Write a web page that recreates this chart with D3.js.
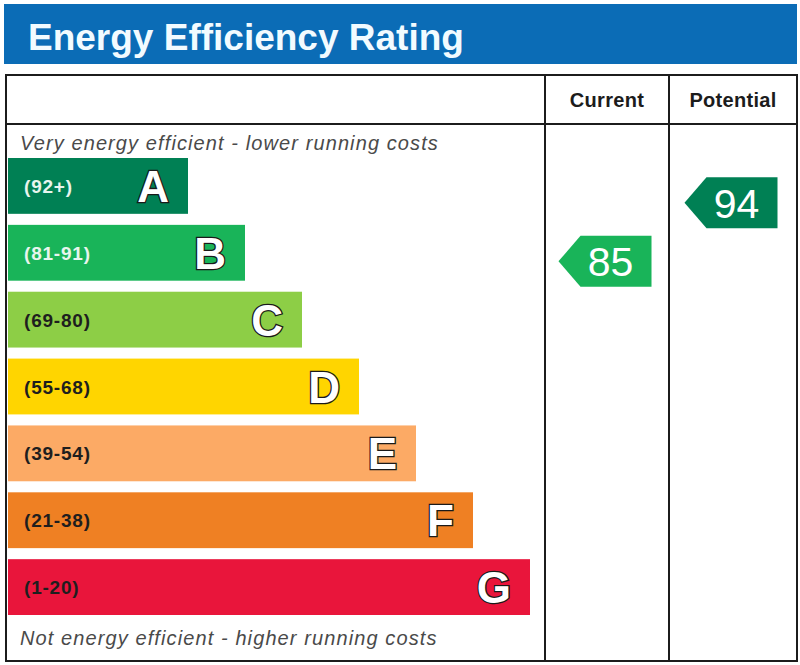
<!DOCTYPE html>
<html>
<head>
<meta charset="utf-8">
<script src="https://cdn.jsdelivr.net/npm/d3@7"></script>
<style>
  html, body { margin: 0; padding: 0; background: #fff; }
  svg { display: block; font-family: "Liberation Sans", Arial, sans-serif; }
</style>
</head>
<body>
<div id="chart"></div>
<script>
// rating bands, top (best) to bottom (worst)
var bands = ["A", "B", "C", "D", "E", "F", "G"];
var rangeLabels = ["(92+)", "(81-91)", "(69-80)", "(55-68)", "(39-54)", "(21-38)", "(1-20)"];
var bandLow = [92, 81, 69, 55, 39, 21, 1];
var bandHigh = [100, 91, 80, 68, 54, 38, 20];
var bandColors = ["#008054", "#19b459", "#8dce46", "#ffd500", "#fcaa65", "#ef8023", "#e9153b"];
var labelColors = ["#e8f5ee", "#e8f5ee", "#1e1e1e", "#1e1e1e", "#1e1e1e", "#1e1e1e", "#1e1e1e"];
var columns = ["Current", "Potential"];
var ratings = [85, 94];

var width = 800, height = 665;
var tableLeft = 6, tableRight = 797, tableTop = 75, tableBottom = 661, headerBottom = 124;
var colX = [545, 669];
var colRight = [colX[1], tableRight];

var svg = d3.select("#chart").append("svg")
    .attr("width", width)
    .attr("height", height);

// title banner
svg.append("rect")
    .attr("x", 4).attr("y", 4)
    .attr("width", 793).attr("height", 60)
    .attr("fill", "#0b6cb6");
svg.append("text")
    .attr("x", 28).attr("y", 50)
    .attr("fill", "#f2fbff")
    .attr("font-size", 37)
    .attr("font-weight", "bold")
    .text("Energy Efficiency Rating");

// bands
var y = d3.scaleBand()
    .domain(bands)
    .range([158, 615])
    .paddingInner(0.165)
    .paddingOuter(0);

var barEnd = d3.scaleLinear()
    .domain([0, bands.length - 1])
    .range([188, 530]);

var rows = svg.selectAll(".band")
    .data(bands)
    .enter()
    .append("g")
    .attr("class", "band");

rows.append("rect")
    .attr("x", 8)
    .attr("y", function(d) { return y(d); })
    .attr("width", function(d, i) { return barEnd(i) - 8; })
    .attr("height", y.bandwidth())
    .attr("fill", function(d, i) { return bandColors[i]; });

rows.append("text")
    .attr("x", 24)
    .attr("y", function(d) { return y(d) + y.bandwidth() / 2 + 7; })
    .attr("font-size", 19)
    .attr("font-weight", "bold")
    .attr("letter-spacing", 0.8)
    .attr("fill", function(d, i) { return labelColors[i]; })
    .text(function(d, i) { return rangeLabels[i]; });

rows.append("text")
    .attr("x", function(d, i) { return barEnd(i) - 19; })
    .attr("y", function(d) { return y(d) + y.bandwidth() / 2 + 16; })
    .attr("text-anchor", "end")
    .attr("font-size", 44)
    .attr("font-weight", "bold")
    .attr("fill", "#fff")
    .attr("stroke", "#1a1a1a")
    .attr("stroke-width", 2.6)
    .attr("paint-order", "stroke")
    .text(function(d) { return d; });

// italic captions
svg.append("text")
    .attr("x", 20).attr("y", 150)
    .attr("font-size", 20)
    .attr("font-style", "italic")
    .attr("letter-spacing", 1.1)
    .attr("fill", "#4a4a4a")
    .text("Very energy efficient - lower running costs");
svg.append("text")
    .attr("x", 20).attr("y", 645)
    .attr("font-size", 20)
    .attr("font-style", "italic")
    .attr("letter-spacing", 1.1)
    .attr("fill", "#4a4a4a")
    .text("Not energy efficient - higher running costs");

// table lines
var lineColor = "#1c1c1c";
svg.append("rect")
    .attr("x", tableLeft).attr("y", tableTop)
    .attr("width", tableRight - tableLeft).attr("height", tableBottom - tableTop)
    .attr("fill", "none")
    .attr("stroke", lineColor)
    .attr("stroke-width", 2);
svg.append("line")
    .attr("x1", tableLeft).attr("x2", tableRight)
    .attr("y1", headerBottom).attr("y2", headerBottom)
    .attr("stroke", lineColor).attr("stroke-width", 2);
colX.forEach(function(x) {
    svg.append("line")
        .attr("x1", x).attr("x2", x)
        .attr("y1", tableTop).attr("y2", tableBottom)
        .attr("stroke", lineColor).attr("stroke-width", 2);
});

// column headers
svg.selectAll(".colhead")
    .data(columns)
    .enter()
    .append("text")
    .attr("class", "colhead")
    .attr("x", function(d, i) { return (colX[i] + colRight[i]) / 2; })
    .attr("y", 107)
    .attr("text-anchor", "middle")
    .attr("font-size", 20)
    .attr("font-weight", "bold")
    .attr("letter-spacing", 0.3)
    .attr("fill", "#1c1c1c")
    .text(function(d) { return d; });

// rating arrows
var bandOf = function(v) {
    for (var i = 0; i < bands.length; i++) {
        if (v >= bandLow[i]) return i;
    }
    return bands.length - 1;
};
var arrowY = function(v) {
    var i = bandOf(v);
    var frac = (bandHigh[i] - v) / (bandHigh[i] - bandLow[i]);
    return y(bands[i]) + frac * y.bandwidth() + 3;
};

var arrowH = 51, arrowW = 93, tip = 22;
var arrows = svg.selectAll(".arrow")
    .data(ratings)
    .enter()
    .append("g")
    .attr("class", "arrow")
    .attr("transform", function(d, i) {
        var cx = (colX[i] + colRight[i]) / 2;
        return "translate(" + (cx - arrowW / 2 - 2) + "," + arrowY(d) + ")";
    });

arrows.append("path")
    .attr("d", "M0,0 L" + tip + "," + (-arrowH / 2) + " L" + arrowW + "," + (-arrowH / 2) +
        " L" + arrowW + "," + (arrowH / 2) + " L" + tip + "," + (arrowH / 2) + " Z")
    .attr("fill", function(d) { return bandColors[bandOf(d)]; });

arrows.append("text")
    .attr("x", 52)
    .attr("y", 15)
    .attr("text-anchor", "middle")
    .attr("font-size", 41)
    .attr("fill", "#fff")
    .text(function(d) { return d; });
</script>
</body>
</html>
